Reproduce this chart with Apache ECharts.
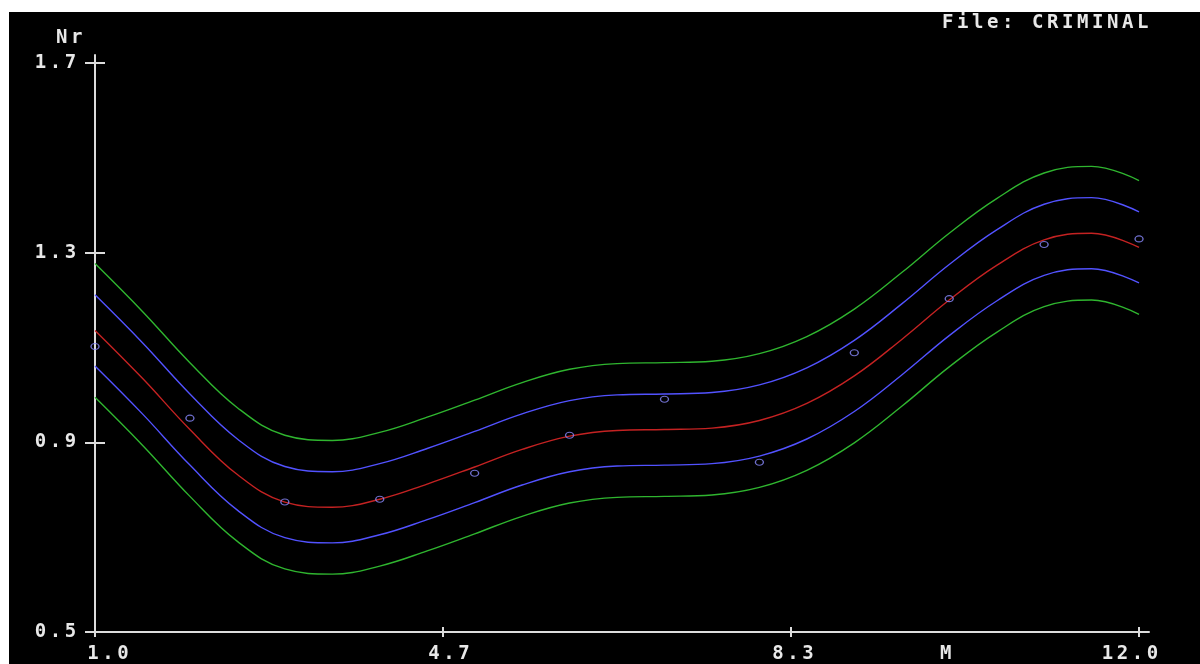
<!DOCTYPE html>
<html><head><meta charset="utf-8">
<script src="https://cdn.jsdelivr.net/npm/echarts@6/dist/echarts.min.js"></script>
<style>
html,body{margin:0;padding:0;background:#fff;width:1200px;height:664px;overflow:hidden;}
#c{position:absolute;left:9px;top:12px;width:1191px;height:652px;background:#000;}
</style>
</head><body><div id="c"></div>
<script>
// ---- data ----
const curveX = [1,1.5,2,2.5,3,3.5,4,4.5,5,5.5,6,6.5,7,7.5,8,8.5,9,9.5,10,10.5,11,11.5,12];
const fitCurve   = [1.136,1.035,0.927,0.832,0.774,0.763,0.780,0.812,0.848,0.885,0.913,0.925,0.927,0.930,0.946,0.982,1.040,1.117,1.200,1.273,1.327,1.341,1.311];
const innerUpper = [1.211,1.110,1.002,0.907,0.849,0.838,0.855,0.887,0.923,0.960,0.988,1.000,1.002,1.005,1.021,1.057,1.115,1.192,1.275,1.348,1.402,1.416,1.386];
const innerLower = [1.061,0.960,0.852,0.757,0.699,0.688,0.705,0.737,0.773,0.810,0.838,0.850,0.852,0.855,0.871,0.907,0.965,1.042,1.125,1.198,1.252,1.266,1.236];
const outerUpper = [1.277,1.176,1.068,0.973,0.915,0.904,0.921,0.953,0.989,1.026,1.054,1.066,1.068,1.071,1.087,1.123,1.181,1.258,1.341,1.414,1.468,1.482,1.452];
const outerLower = [0.995,0.894,0.786,0.691,0.633,0.622,0.639,0.671,0.707,0.744,0.772,0.784,0.786,0.789,0.805,0.841,0.899,0.976,1.059,1.132,1.186,1.200,1.170];
const pointX = [1,2,3,4,5,6,7,8,9,10,11,12];
const pointY = [1.102,0.951,0.774,0.780,0.835,0.915,0.991,0.858,1.089,1.203,1.317,1.329];
const xTickValues = [1, 14/3, 25/3, 12];
const xTickLabels = ['1.0','4.7','8.3','12.0'];
const yTickValues = [0.5, 0.9, 1.3, 1.7];
const yTickLabels = ['0.5','0.9','1.3','1.7'];
const xAxisName = 'M';
const yAxisName = 'Nr';
const fileTitle = 'File: CRIMINAL';

// ---- styles ----
const TXT = '#e8e8e8';
const AX = '#dcdcdc';
const FONT = 'DejaVu Sans Mono';
const charStyle = {width: 15, align: 'center', fontFamily: FONT, fontWeight: 'bold', fontSize: 19, color: TXT, fill: TXT};
const xLabelShift = [13, 6, 2, -9];

function mono(s) {
  return s.split('').map(ch => '{c|' + (ch === ' ' ? '\u00a0' : ch) + '}').join('');
}
const xRich = {c: charStyle};
xLabelShift.forEach((s, i) => { xRich['sp' + i] = {width: Math.abs(2 * s), fontSize: 19, fontFamily: FONT}; });

function nearestIdx(arr, v) {
  let b = 0;
  arr.forEach((a, i) => { if (Math.abs(a - v) < Math.abs(arr[b] - v)) b = i; });
  return b;
}

const pairs = arr => curveX.map((x, i) => [x, arr[i]]);
const lineSeries = (arr, color) => ({
  type: 'line', data: pairs(arr), smooth: 0.4, showSymbol: false, silent: true,
  lineStyle: {color: color, width: 1.4}, animation: false, z: 2
});

const chart = echarts.init(document.getElementById('c'), null, {renderer: 'canvas'});
chart.setOption({
  backgroundColor: '#000',
  animation: false,
  grid: {left: 86, top: 43, right: 51, bottom: 32, containLabel: false},
  xAxis: [{
    type: 'value', min: 1, max: 12.105, position: 'bottom',
    axisLine: {show: true, lineStyle: {color: AX, width: 2}},
    axisTick: {show: true, length: 5, lineStyle: {color: AX, width: 2}, customValues: xTickValues},
    axisLabel: {
      show: true, margin: 13, customValues: xTickValues, rich: xRich,
      formatter: v => {
        const i = nearestIdx(xTickValues, v);
        const s = xLabelShift[i];
        const t = mono(xTickLabels[i]);
        if (s > 0) return '{sp' + i + '|\u00a0}' + t;
        if (s < 0) return t + '{sp' + i + '|\u00a0}';
        return t;
      }
    },
    splitLine: {show: false}
  }, {
    type: 'value', min: 1, max: 12.105, position: 'bottom', offset: 0,
    axisLine: {show: false},
    axisTick: {show: true, inside: true, length: 5, lineStyle: {color: AX, width: 2}, customValues: xTickValues},
    axisLabel: {show: false}, splitLine: {show: false}
  }],
  yAxis: [{
    type: 'value', min: 0.5, max: 1.7168, position: 'left',
    axisLine: {show: true, lineStyle: {color: AX, width: 2}},
    axisTick: {show: true, length: 10, lineStyle: {color: AX, width: 2}, customValues: yTickValues},
    axisLabel: {
      show: true, margin: 17, customValues: yTickValues, rich: {c: charStyle},
      formatter: v => mono(yTickLabels[nearestIdx(yTickValues, v)])
    },
    splitLine: {show: false}
  }, {
    type: 'value', min: 0.5, max: 1.7168, position: 'left', offset: 0,
    axisLine: {show: false},
    axisTick: {show: true, inside: true, length: 10, lineStyle: {color: AX, width: 2}, customValues: yTickValues},
    axisLabel: {show: false}, splitLine: {show: false}
  }],
  series: [
    lineSeries(outerUpper, '#2fb52f'),
    lineSeries(outerLower, '#2fb52f'),
    lineSeries(innerUpper, '#5252ff'),
    lineSeries(innerLower, '#5252ff'),
    lineSeries(fitCurve, '#c42222'),
    {
      type: 'scatter', data: pointX.map((x, i) => [x, pointY[i]]),
      symbol: 'circle', symbolSize: [8, 6], silent: true, z: 5,
      itemStyle: {color: 'rgba(0,0,0,0)', borderColor: '#8a8aff', borderWidth: 1.2}
    }
  ],
  graphic: [
    {type: 'text', left: 933, top: 2, style: {text: mono(fileTitle), rich: {c: charStyle}, fill: TXT}},
    {type: 'text', left: 47, top: 17, style: {text: mono(yAxisName), rich: {c: charStyle}, fill: TXT}},
    {type: 'text', left: 931, top: 633, style: {text: mono(xAxisName), rich: {c: charStyle}, fill: TXT}}
  ]
});
</script>
</body></html>
